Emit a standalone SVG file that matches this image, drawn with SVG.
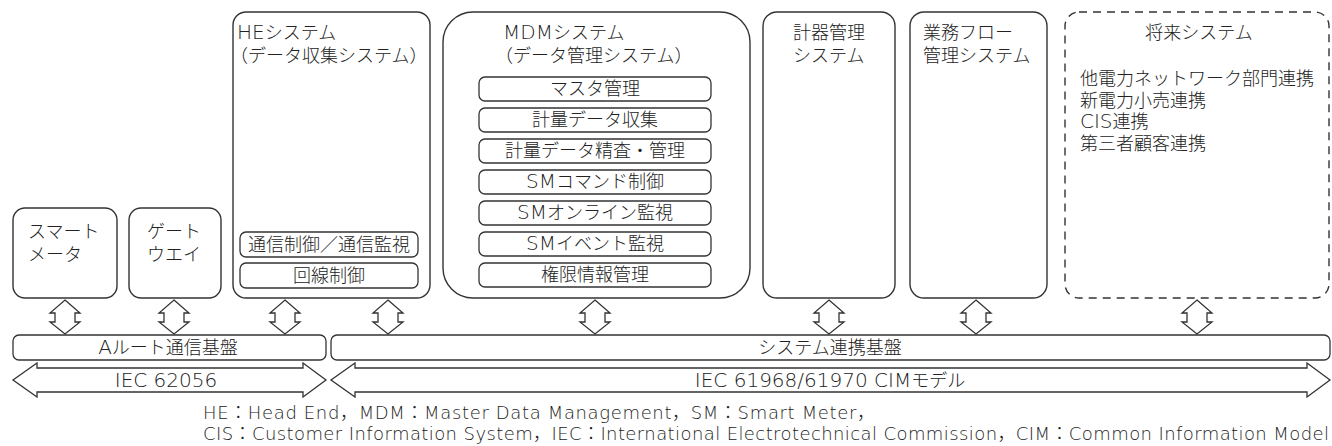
<svg xmlns="http://www.w3.org/2000/svg" xmlns:xlink="http://www.w3.org/1999/xlink" width="1332" height="446" viewBox="0 0 1332 446">
  <style>
    .box { fill: #fff; stroke: #333; stroke-width: 1.4; }
    .dash { fill: #fff; stroke: #333; stroke-width: 1.4; stroke-dasharray: 8 6; }
    .sub { fill: #fff; stroke: #333; stroke-width: 1.3; }
    .arrow { fill: #fff; stroke: #333; stroke-width: 1.3; stroke-linejoin: miter; }
    text { font-family: "DejaVu Sans", "Noto Sans CJK JP", sans-serif; font-size: 18px; font-weight: 300; fill: #222; }
    .c { text-anchor: middle; }
    .L { font-size: 20px; }
  </style>
  <defs>
    <!-- vertical double-headed block arrow, centred on x=0 -->
    <path id="vArrow" d="M0,300 L15,313 L10,313 L10,322 L15,322 L0,334 L-15,322 L-10,322 L-10,313 L-15,313 Z"/>
  </defs>

  <!-- field devices -->
  <g id="smart-meter">
    <rect class="box" x="13" y="208" width="104" height="90" rx="12"/>
    <text x="28" y="238">スマート<tspan x="28" dy="23">メータ</tspan></text>
  </g>
  <g id="gateway">
    <rect class="box" x="129" y="208" width="92" height="90" rx="12"/>
    <text x="147" y="238">ゲート<tspan x="147" dy="23">ウエイ</tspan></text>
  </g>

  <!-- head end system -->
  <g id="he-system">
    <rect class="box" x="233" y="12" width="197" height="286" rx="13"/>
    <text x="237" y="39"><tspan class="L">HE</tspan>システム<tspan x="230" dy="23">（データ収集システム）</tspan></text>
    <rect class="sub" x="240" y="232" width="178" height="25" rx="6"/>
    <text class="c" x="329" y="251">通信制御／通信監視</text>
    <rect class="sub" x="240" y="263" width="178" height="25" rx="6"/>
    <text class="c" x="329" y="282">回線制御</text>
  </g>

  <!-- meter data management system -->
  <g id="mdm-system">
    <rect class="box" x="443" y="12" width="307" height="286" rx="30"/>
    <text x="503" y="39"><tspan class="L">MDM</tspan>システム<tspan x="495" dy="23">（データ管理システム）</tspan></text>
    <rect class="sub" x="479" y="77" width="232" height="24" rx="6"/>
    <text class="c" x="595" y="95">マスタ管理</text>
    <rect class="sub" x="479" y="108" width="232" height="24" rx="6"/>
    <text class="c" x="595" y="126">計量データ収集</text>
    <rect class="sub" x="479" y="139" width="232" height="24" rx="6"/>
    <text class="c" x="595" y="157">計量データ精査・管理</text>
    <rect class="sub" x="479" y="170" width="232" height="24" rx="6"/>
    <text class="c" x="595" y="188"><tspan class="L">SM</tspan>コマンド制御</text>
    <rect class="sub" x="479" y="201" width="232" height="24" rx="6"/>
    <text class="c" x="595" y="219"><tspan class="L">SM</tspan>オンライン監視</text>
    <rect class="sub" x="479" y="232" width="232" height="24" rx="6"/>
    <text class="c" x="595" y="250"><tspan class="L">SM</tspan>イベント監視</text>
    <rect class="sub" x="479" y="263" width="232" height="24" rx="6"/>
    <text class="c" x="595" y="281">権限情報管理</text>
  </g>

  <g id="meter-mgmt">
    <rect class="box" x="763" y="12" width="132" height="286" rx="14"/>
    <text x="793" y="39">計器管理<tspan x="793" dy="23">システム</tspan></text>
  </g>

  <g id="workflow-mgmt">
    <rect class="box" x="910" y="12" width="137" height="286" rx="14"/>
    <text x="923" y="39">業務フロー<tspan x="923" dy="23">管理システム</tspan></text>
  </g>

  <g id="future-system">
    <rect class="dash" x="1065" y="12" width="264" height="286" rx="14"/>
    <text class="c" x="1199" y="39">将来システム</text>
    <text x="1080" y="85">他電力ネットワーク部門連携<tspan x="1080" dy="21.5">新電力小売連携</tspan><tspan x="1080" dy="21.5"><tspan class="L">CIS</tspan>連携</tspan><tspan x="1080" dy="21.5">第三者顧客連携</tspan></text>
  </g>

  <!-- integration platforms -->
  <g id="a-route-bus">
    <rect class="sub" x="13" y="335" width="313" height="25" rx="6"/>
    <text class="c" x="168" y="354"><tspan class="L">A</tspan>ルート通信基盤</text>
  </g>
  <g id="integration-bus">
    <rect class="sub" x="331" y="335" width="999" height="25" rx="6"/>
    <text class="c" x="830" y="354">システム連携基盤</text>
  </g>

  <!-- connectors -->
  <g id="connectors">
    <use href="#vArrow" xlink:href="#vArrow" class="arrow" x="65"/>
    <use href="#vArrow" xlink:href="#vArrow" class="arrow" x="174"/>
    <use href="#vArrow" xlink:href="#vArrow" class="arrow" x="285"/>
    <use href="#vArrow" xlink:href="#vArrow" class="arrow" x="388"/>
    <use href="#vArrow" xlink:href="#vArrow" class="arrow" x="595"/>
    <use href="#vArrow" xlink:href="#vArrow" class="arrow" x="829"/>
    <use href="#vArrow" xlink:href="#vArrow" class="arrow" x="976"/>
    <use href="#vArrow" xlink:href="#vArrow" class="arrow" x="1197"/>
  </g>

  <!-- standards spans -->
  <g id="iec-62056">
    <path class="arrow" d="M13,380 L37,363 L37,368 L303,368 L303,363 L326,380 L303,397 L303,392 L37,392 L37,397 Z"/>
    <text class="c" x="166" y="387"><tspan class="L">IEC 62056</tspan></text>
  </g>
  <g id="iec-cim">
    <path class="arrow" d="M331,380 L355,363 L355,368 L1307,368 L1307,363 L1330,380 L1307,397 L1307,392 L355,392 L355,397 Z"/>
    <text class="c" x="830" y="387"><tspan class="L">IEC 61968/61970 CIM</tspan>モデル</text>
  </g>

  <!-- abbreviations -->
  <g id="legend">
    <text x="203" y="419" textLength="672" lengthAdjust="spacing">HE：Head End，MDM：Master Data Management，SM：Smart Meter，</text>
    <text x="203" y="440" textLength="1126" lengthAdjust="spacing">CIS：Customer Information System，IEC：International Electrotechnical Commission，CIM：Common Information Model</text>
  </g>
</svg>
